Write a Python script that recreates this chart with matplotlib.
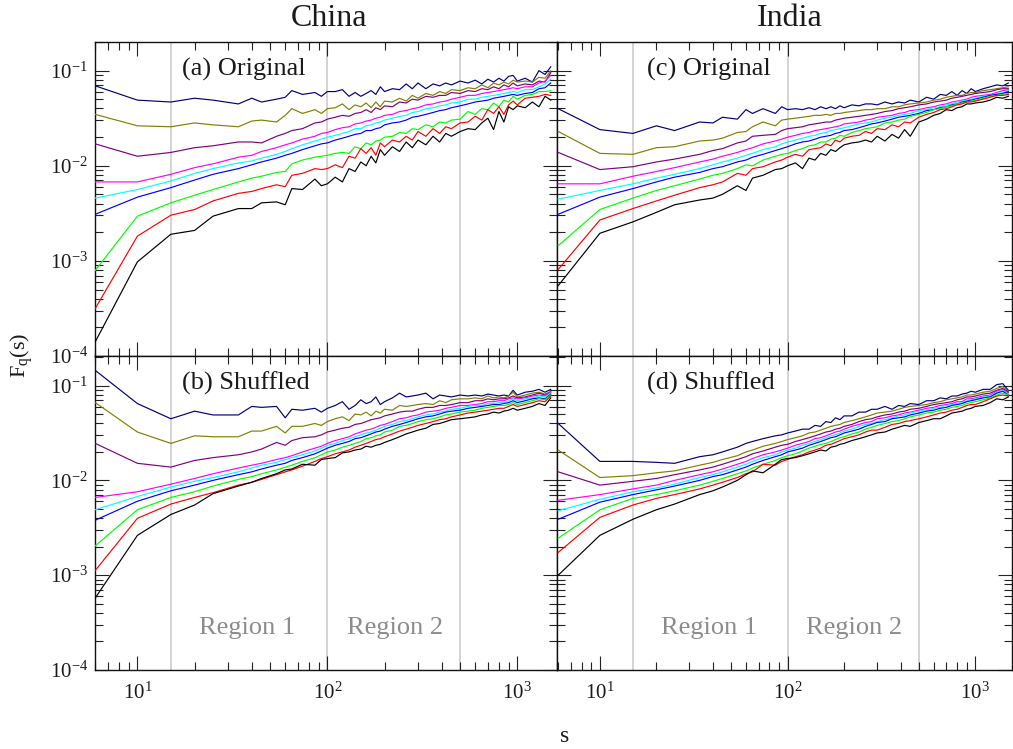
import numpy as np
import matplotlib
matplotlib.use("Agg")
import matplotlib.pyplot as plt
from matplotlib.ticker import FixedLocator, LogLocator, NullFormatter

# ---------------- data (log10 F_q(s)) ----------------
S = [6, 10, 15, 20, 25, 34, 40, 45, 54, 60, 65, 74, 86, 93, 100,
     110, 120, 130, 140, 150, 160, 170, 180, 190, 200,
     220, 240, 260, 280, 300, 330, 360, 390, 420, 450,
     500, 550, 600, 650, 700, 750, 800, 850, 900, 950, 1000,
     1100, 1200, 1300, 1400, 1500]

COLORS = ["#000080", "#808000", "#800080", "#ff00ff", "#00ffff",
          "#0000ff", "#00ff00", "#ff0000", "#000000"]

# (a) China, original
a_navy = [-1.16,-1.31,-1.33,-1.29,-1.31,-1.35,-1.29,-1.33,-1.30,-1.28,-1.21,-1.25,-1.23,-1.27,-1.22,
          -1.22,-1.20,-1.27,-1.23,-1.27,-1.24,-1.21,-1.25,-1.17,-1.22,
          -1.19,-1.20,-1.14,-1.19,-1.13,-1.19,-1.14,-1.16,-1.13,-1.15,
          -1.11,-1.13,-1.10,-1.14,-1.09,-1.12,-1.08,-1.11,-1.06,-1.05,-1.11,
          -1.08,-1.12,-1.00,-1.04,-0.96]
a_olive = [-1.46,-1.58,-1.59,-1.55,-1.57,-1.59,-1.53,-1.52,-1.54,-1.47,-1.40,-1.45,-1.41,-1.45,-1.40,
           -1.39,-1.35,-1.41,-1.36,-1.38,-1.34,-1.39,-1.33,-1.38,-1.32,
           -1.33,-1.29,-1.32,-1.26,-1.29,-1.24,-1.26,-1.22,-1.24,-1.20,
           -1.21,-1.18,-1.19,-1.15,-1.18,-1.13,-1.15,-1.12,-1.14,-1.10,-1.12,
           -1.11,-1.12,-1.07,-1.08,-1.00]
a_purple = [-1.77,-1.90,-1.86,-1.81,-1.79,-1.75,-1.75,-1.76,-1.69,-1.66,-1.63,-1.61,-1.55,-1.54,-1.51,
            -1.49,-1.47,-1.48,-1.45,-1.44,-1.41,-1.44,-1.39,-1.41,-1.37,
            -1.38,-1.33,-1.34,-1.30,-1.31,-1.27,-1.28,-1.26,-1.26,-1.23,
            -1.24,-1.21,-1.22,-1.19,-1.20,-1.17,-1.19,-1.15,-1.17,-1.13,-1.16,
            -1.14,-1.15,-1.11,-1.12,-1.02]
a_magenta = [-2.17,-2.17,-2.09,-2.02,-1.98,-1.91,-1.89,-1.85,-1.81,-1.78,-1.76,-1.72,-1.69,-1.66,-1.65,
             -1.62,-1.60,-1.59,-1.56,-1.55,-1.53,-1.52,-1.50,-1.49,-1.47,
             -1.46,-1.43,-1.42,-1.40,-1.39,-1.36,-1.35,-1.33,-1.32,-1.30,
             -1.28,-1.26,-1.26,-1.24,-1.23,-1.22,-1.21,-1.20,-1.19,-1.18,-1.19,
             -1.17,-1.17,-1.13,-1.11,-1.05]
a_cyan = [-2.34,-2.25,-2.16,-2.08,-2.03,-1.97,-1.95,-1.92,-1.88,-1.85,-1.82,-1.78,-1.74,-1.72,-1.70,
          -1.68,-1.66,-1.64,-1.61,-1.61,-1.58,-1.57,-1.55,-1.54,-1.52,
          -1.50,-1.48,-1.47,-1.44,-1.43,-1.40,-1.39,-1.37,-1.36,-1.34,
          -1.33,-1.30,-1.30,-1.28,-1.27,-1.26,-1.25,-1.24,-1.23,-1.22,-1.23,
          -1.20,-1.20,-1.17,-1.14,-1.09]
a_blue = [-2.51,-2.33,-2.23,-2.15,-2.09,-2.03,-1.99,-1.96,-1.92,-1.89,-1.87,-1.83,-1.79,-1.77,-1.76,
          -1.73,-1.71,-1.69,-1.67,-1.66,-1.63,-1.63,-1.61,-1.60,-1.57,
          -1.55,-1.54,-1.52,-1.49,-1.48,-1.46,-1.44,-1.42,-1.41,-1.39,
          -1.37,-1.35,-1.33,-1.32,-1.31,-1.29,-1.28,-1.27,-1.26,-1.25,-1.26,
          -1.24,-1.23,-1.19,-1.18,-1.13]
a_green = [-3.10,-2.53,-2.39,-2.31,-2.25,-2.17,-2.13,-2.11,-2.07,-2.06,-1.98,-1.94,-1.91,-1.90,-1.89,
           -1.87,-1.86,-1.87,-1.80,-1.82,-1.76,-1.78,-1.74,-1.73,-1.70,
           -1.69,-1.65,-1.66,-1.61,-1.62,-1.57,-1.59,-1.54,-1.55,-1.52,
           -1.51,-1.43,-1.46,-1.40,-1.41,-1.34,-1.38,-1.31,-1.33,-1.27,-1.30,
           -1.26,-1.25,-1.22,-1.22,-1.21]
a_red = [-3.50,-2.74,-2.52,-2.46,-2.37,-2.29,-2.27,-2.24,-2.20,-2.22,-2.10,-2.08,-2.03,-2.04,-2.03,
         -1.99,-2.02,-1.90,-1.92,-1.82,-1.87,-1.81,-1.89,-1.76,-1.80,
         -1.73,-1.75,-1.69,-1.73,-1.64,-1.69,-1.61,-1.66,-1.59,-1.61,
         -1.55,-1.54,-1.48,-1.52,-1.41,-1.45,-1.38,-1.46,-1.36,-1.32,-1.36,
         -1.29,-1.28,-1.27,-1.25,-1.26]
a_black = [-3.85,-3.01,-2.72,-2.68,-2.53,-2.45,-2.45,-2.39,-2.38,-2.41,-2.24,-2.25,-2.14,-2.21,-2.19,
           -2.12,-2.17,-2.03,-2.06,-1.96,-2.00,-1.90,-1.97,-1.83,-1.89,
           -1.80,-1.85,-1.75,-1.81,-1.73,-1.78,-1.69,-1.75,-1.66,-1.69,
           -1.64,-1.61,-1.62,-1.55,-1.50,-1.62,-1.43,-1.54,-1.38,-1.41,-1.37,
           -1.39,-1.33,-1.38,-1.27,-1.31]

# (b) China, shuffled
b_navy = [-0.84,-1.19,-1.35,-1.27,-1.31,-1.31,-1.22,-1.23,-1.22,-1.34,-1.25,-1.26,-1.24,-1.28,-1.24,
          -1.21,-1.17,-1.25,-1.21,-1.15,-1.19,-1.17,-1.12,-1.20,-1.17,
          -1.13,-1.08,-1.12,-1.11,-1.10,-1.08,-1.14,-1.10,-1.11,-1.12,
          -1.10,-1.11,-1.10,-1.11,-1.09,-1.10,-1.11,-1.10,-1.11,-1.05,-1.10,
          -1.07,-1.06,-1.04,-1.07,-1.04]
b_olive = [-1.18,-1.49,-1.61,-1.53,-1.54,-1.54,-1.48,-1.48,-1.43,-1.50,-1.43,-1.43,-1.40,-1.42,-1.38,
           -1.35,-1.33,-1.37,-1.30,-1.31,-1.28,-1.32,-1.27,-1.29,-1.25,
           -1.26,-1.21,-1.22,-1.21,-1.20,-1.19,-1.20,-1.16,-1.18,-1.15,
           -1.14,-1.14,-1.13,-1.14,-1.11,-1.13,-1.12,-1.13,-1.11,-1.07,-1.12,
           -1.10,-1.08,-1.07,-1.09,-1.06]
b_purple = [-1.61,-1.82,-1.86,-1.79,-1.76,-1.73,-1.70,-1.67,-1.60,-1.63,-1.58,-1.55,-1.54,-1.52,-1.49,
            -1.47,-1.45,-1.44,-1.41,-1.40,-1.38,-1.36,-1.35,-1.34,-1.32,
            -1.30,-1.28,-1.27,-1.27,-1.25,-1.23,-1.23,-1.21,-1.21,-1.20,
            -1.18,-1.18,-1.16,-1.16,-1.14,-1.15,-1.14,-1.14,-1.13,-1.11,-1.13,
            -1.12,-1.10,-1.08,-1.10,-1.07]
b_magenta = [-2.18,-2.12,-2.04,-1.98,-1.93,-1.87,-1.84,-1.82,-1.78,-1.76,-1.74,-1.70,-1.66,-1.64,-1.61,
             -1.58,-1.56,-1.54,-1.51,-1.49,-1.47,-1.46,-1.44,-1.42,-1.41,
             -1.38,-1.35,-1.34,-1.32,-1.31,-1.28,-1.27,-1.26,-1.24,-1.23,
             -1.21,-1.21,-1.20,-1.19,-1.17,-1.17,-1.16,-1.16,-1.14,-1.13,-1.14,
             -1.13,-1.11,-1.10,-1.11,-1.07]
b_cyan = [-2.31,-2.17,-2.07,-2.01,-1.97,-1.91,-1.87,-1.84,-1.81,-1.78,-1.76,-1.73,-1.69,-1.66,-1.63,
          -1.61,-1.58,-1.56,-1.54,-1.52,-1.50,-1.49,-1.47,-1.45,-1.43,
          -1.41,-1.38,-1.37,-1.35,-1.33,-1.31,-1.30,-1.28,-1.27,-1.25,
          -1.24,-1.22,-1.21,-1.21,-1.19,-1.19,-1.18,-1.18,-1.16,-1.14,-1.16,
          -1.14,-1.13,-1.11,-1.12,-1.08]
b_blue = [-2.42,-2.22,-2.11,-2.05,-2.00,-1.94,-1.91,-1.88,-1.84,-1.82,-1.79,-1.76,-1.72,-1.69,-1.66,
          -1.63,-1.61,-1.59,-1.56,-1.55,-1.53,-1.51,-1.49,-1.48,-1.46,
          -1.43,-1.41,-1.39,-1.37,-1.35,-1.33,-1.32,-1.30,-1.28,-1.27,
          -1.26,-1.24,-1.23,-1.22,-1.21,-1.20,-1.20,-1.19,-1.18,-1.16,-1.18,
          -1.16,-1.14,-1.13,-1.14,-1.09]
b_green = [-2.69,-2.31,-2.18,-2.12,-2.06,-1.99,-1.96,-1.93,-1.89,-1.86,-1.84,-1.80,-1.76,-1.73,-1.70,
           -1.68,-1.65,-1.63,-1.61,-1.59,-1.56,-1.55,-1.53,-1.52,-1.49,
           -1.47,-1.43,-1.42,-1.40,-1.38,-1.36,-1.35,-1.33,-1.31,-1.30,
           -1.28,-1.27,-1.26,-1.24,-1.23,-1.22,-1.21,-1.21,-1.20,-1.18,-1.20,
           -1.18,-1.16,-1.14,-1.15,-1.10]
b_red = [-2.95,-2.40,-2.25,-2.18,-2.13,-2.05,-2.02,-1.99,-1.94,-1.91,-1.89,-1.85,-1.80,-1.77,-1.75,
         -1.72,-1.70,-1.68,-1.65,-1.63,-1.61,-1.59,-1.57,-1.56,-1.54,
         -1.51,-1.48,-1.46,-1.44,-1.42,-1.40,-1.38,-1.36,-1.35,-1.33,
         -1.31,-1.29,-1.28,-1.27,-1.26,-1.25,-1.24,-1.24,-1.22,-1.20,-1.22,
         -1.20,-1.18,-1.16,-1.17,-1.11]
b_black = [-3.24,-2.58,-2.36,-2.26,-2.14,-2.06,-2.02,-1.98,-1.93,-1.89,-1.88,-1.83,-1.84,-1.78,-1.77,
           -1.76,-1.71,-1.70,-1.68,-1.67,-1.64,-1.65,-1.63,-1.62,-1.60,
           -1.57,-1.54,-1.51,-1.49,-1.47,-1.45,-1.41,-1.40,-1.38,-1.36,
           -1.35,-1.34,-1.33,-1.31,-1.30,-1.28,-1.29,-1.27,-1.26,-1.24,-1.26,
           -1.24,-1.22,-1.19,-1.21,-1.13]

# (c) India, original
c_navy = [-1.40,-1.62,-1.66,-1.58,-1.63,-1.54,-1.55,-1.49,-1.51,-1.41,-1.45,-1.40,-1.45,-1.38,-1.41,
          -1.40,-1.41,-1.39,-1.41,-1.38,-1.40,-1.38,-1.40,-1.37,-1.39,
          -1.36,-1.37,-1.35,-1.35,-1.36,-1.33,-1.35,-1.33,-1.34,-1.31,
          -1.33,-1.28,-1.30,-1.25,-1.26,-1.22,-1.26,-1.21,-1.24,-1.19,-1.22,
          -1.19,-1.17,-1.15,-1.16,-1.13]
c_olive = [-1.64,-1.87,-1.88,-1.81,-1.80,-1.74,-1.73,-1.71,-1.65,-1.64,-1.59,-1.54,-1.58,-1.52,-1.51,
           -1.50,-1.49,-1.48,-1.47,-1.47,-1.46,-1.47,-1.45,-1.45,-1.44,
           -1.43,-1.42,-1.41,-1.41,-1.40,-1.40,-1.38,-1.38,-1.36,-1.35,
           -1.34,-1.33,-1.31,-1.30,-1.28,-1.27,-1.26,-1.26,-1.24,-1.23,-1.23,
           -1.21,-1.20,-1.19,-1.18,-1.17]
c_purple = [-1.86,-2.04,-2.01,-1.96,-1.93,-1.88,-1.84,-1.82,-1.76,-1.74,-1.69,-1.68,-1.67,-1.63,-1.61,
            -1.60,-1.59,-1.57,-1.56,-1.55,-1.54,-1.54,-1.52,-1.51,-1.50,
            -1.49,-1.48,-1.47,-1.46,-1.45,-1.43,-1.42,-1.40,-1.39,-1.38,
            -1.36,-1.35,-1.33,-1.32,-1.31,-1.29,-1.28,-1.27,-1.26,-1.25,-1.24,
            -1.23,-1.22,-1.20,-1.19,-1.19]
c_magenta = [-2.19,-2.19,-2.11,-2.06,-2.02,-1.96,-1.93,-1.90,-1.86,-1.83,-1.81,-1.77,-1.74,-1.72,-1.70,
             -1.68,-1.66,-1.65,-1.63,-1.62,-1.61,-1.60,-1.59,-1.58,-1.56,
             -1.55,-1.54,-1.52,-1.51,-1.49,-1.48,-1.47,-1.45,-1.44,-1.42,
             -1.41,-1.39,-1.38,-1.36,-1.35,-1.33,-1.32,-1.31,-1.30,-1.28,-1.27,
             -1.26,-1.25,-1.23,-1.21,-1.20]
c_cyan = [-2.35,-2.26,-2.19,-2.13,-2.09,-2.03,-1.99,-1.96,-1.92,-1.89,-1.87,-1.83,-1.80,-1.77,-1.75,
          -1.73,-1.71,-1.69,-1.68,-1.66,-1.65,-1.63,-1.62,-1.61,-1.60,
          -1.58,-1.56,-1.55,-1.54,-1.52,-1.50,-1.49,-1.47,-1.46,-1.45,
          -1.42,-1.41,-1.39,-1.38,-1.36,-1.35,-1.33,-1.32,-1.31,-1.30,-1.29,
          -1.27,-1.26,-1.24,-1.23,-1.21]
c_blue = [-2.51,-2.33,-2.24,-2.17,-2.12,-2.07,-2.03,-2.01,-1.96,-1.94,-1.91,-1.88,-1.84,-1.82,-1.80,
          -1.77,-1.75,-1.74,-1.72,-1.70,-1.69,-1.68,-1.66,-1.65,-1.63,
          -1.62,-1.60,-1.58,-1.56,-1.55,-1.53,-1.51,-1.49,-1.48,-1.47,
          -1.45,-1.42,-1.41,-1.39,-1.38,-1.36,-1.35,-1.33,-1.32,-1.31,-1.30,
          -1.28,-1.26,-1.25,-1.24,-1.22]
c_green = [-2.84,-2.46,-2.34,-2.26,-2.21,-2.14,-2.10,-2.08,-2.03,-1.99,-2.00,-1.94,-1.90,-1.88,-1.87,
           -1.84,-1.82,-1.79,-1.78,-1.75,-1.75,-1.72,-1.71,-1.68,-1.69,
           -1.65,-1.63,-1.61,-1.60,-1.59,-1.55,-1.54,-1.52,-1.51,-1.48,
           -1.46,-1.44,-1.41,-1.40,-1.38,-1.37,-1.35,-1.34,-1.33,-1.32,-1.31,
           -1.29,-1.27,-1.26,-1.25,-1.24]
c_red = [-3.09,-2.57,-2.45,-2.37,-2.31,-2.23,-2.20,-2.17,-2.08,-2.10,-2.03,-2.01,-1.96,-1.94,-1.91,
         -1.88,-1.90,-1.83,-1.82,-1.81,-1.77,-1.79,-1.73,-1.75,-1.71,
         -1.69,-1.68,-1.64,-1.66,-1.61,-1.62,-1.57,-1.59,-1.54,-1.55,
         -1.49,-1.46,-1.44,-1.41,-1.40,-1.38,-1.36,-1.35,-1.33,-1.33,-1.32,
         -1.30,-1.28,-1.26,-1.26,-1.25]
c_black = [-3.26,-2.71,-2.59,-2.49,-2.41,-2.36,-2.34,-2.30,-2.21,-2.26,-2.13,-2.10,-2.04,-2.03,-2.00,
           -1.97,-2.03,-1.92,-1.94,-1.87,-1.89,-1.83,-1.85,-1.81,-1.78,
           -1.76,-1.75,-1.73,-1.75,-1.69,-1.74,-1.67,-1.71,-1.62,-1.69,
           -1.54,-1.51,-1.47,-1.45,-1.41,-1.42,-1.39,-1.38,-1.35,-1.35,-1.34,
           -1.33,-1.31,-1.28,-1.29,-1.27]

# (d) India, shuffled
d_navy = [-1.40,-1.80,-1.80,-1.81,-1.82,-1.75,-1.73,-1.70,-1.65,-1.61,-1.59,-1.56,-1.53,-1.52,-1.50,
          -1.48,-1.46,-1.46,-1.42,-1.43,-1.38,-1.39,-1.34,-1.36,-1.32,
          -1.32,-1.28,-1.28,-1.25,-1.25,-1.22,-1.25,-1.21,-1.22,-1.19,
          -1.20,-1.16,-1.16,-1.13,-1.14,-1.11,-1.11,-1.09,-1.08,-1.06,-1.07,
          -1.04,-1.04,-0.99,-0.98,-1.05]
d_olive = [-1.68,-1.97,-1.95,-1.92,-1.90,-1.84,-1.81,-1.78,-1.74,-1.70,-1.68,-1.64,-1.61,-1.59,-1.57,
           -1.55,-1.53,-1.50,-1.49,-1.47,-1.45,-1.43,-1.42,-1.41,-1.39,
           -1.37,-1.35,-1.33,-1.31,-1.29,-1.28,-1.27,-1.25,-1.23,-1.22,
           -1.21,-1.20,-1.18,-1.17,-1.15,-1.14,-1.13,-1.12,-1.10,-1.10,-1.09,
           -1.07,-1.06,-1.03,-1.01,-1.06]
d_purple = [-1.91,-2.05,-2.01,-1.98,-1.94,-1.89,-1.86,-1.83,-1.78,-1.75,-1.72,-1.69,-1.65,-1.63,-1.62,
            -1.59,-1.57,-1.55,-1.53,-1.51,-1.49,-1.48,-1.46,-1.45,-1.43,
            -1.41,-1.38,-1.36,-1.35,-1.33,-1.31,-1.30,-1.28,-1.27,-1.25,
            -1.24,-1.22,-1.20,-1.19,-1.18,-1.17,-1.15,-1.14,-1.12,-1.12,-1.11,
            -1.09,-1.08,-1.05,-1.03,-1.07]
d_magenta = [-2.21,-2.15,-2.09,-2.05,-2.00,-1.94,-1.91,-1.88,-1.83,-1.80,-1.77,-1.73,-1.70,-1.68,-1.66,
             -1.63,-1.61,-1.59,-1.56,-1.55,-1.53,-1.51,-1.49,-1.48,-1.46,
             -1.43,-1.41,-1.39,-1.38,-1.35,-1.34,-1.32,-1.31,-1.29,-1.28,
             -1.26,-1.24,-1.23,-1.21,-1.20,-1.19,-1.17,-1.17,-1.14,-1.14,-1.13,
             -1.11,-1.10,-1.06,-1.04,-1.08]
d_cyan = [-2.32,-2.20,-2.12,-2.08,-2.04,-1.97,-1.94,-1.91,-1.86,-1.83,-1.80,-1.76,-1.73,-1.70,-1.68,
          -1.66,-1.63,-1.61,-1.59,-1.57,-1.55,-1.53,-1.52,-1.50,-1.48,
          -1.46,-1.43,-1.41,-1.40,-1.38,-1.36,-1.34,-1.32,-1.31,-1.29,
          -1.27,-1.26,-1.24,-1.23,-1.21,-1.20,-1.19,-1.18,-1.16,-1.15,-1.14,
          -1.12,-1.11,-1.07,-1.05,-1.09]
d_blue = [-2.41,-2.23,-2.15,-2.10,-2.06,-2.00,-1.96,-1.94,-1.89,-1.86,-1.83,-1.79,-1.75,-1.73,-1.70,
          -1.68,-1.66,-1.63,-1.61,-1.59,-1.57,-1.55,-1.54,-1.52,-1.50,
          -1.48,-1.46,-1.43,-1.41,-1.39,-1.38,-1.35,-1.34,-1.33,-1.31,
          -1.29,-1.27,-1.26,-1.24,-1.23,-1.21,-1.20,-1.19,-1.17,-1.16,-1.15,
          -1.13,-1.12,-1.08,-1.06,-1.10]
d_green = [-2.61,-2.31,-2.19,-2.15,-2.11,-2.05,-2.01,-1.98,-1.93,-1.90,-1.87,-1.83,-1.79,-1.76,-1.74,
           -1.72,-1.69,-1.66,-1.64,-1.62,-1.61,-1.59,-1.57,-1.55,-1.54,
           -1.51,-1.49,-1.46,-1.44,-1.42,-1.40,-1.38,-1.37,-1.35,-1.33,
           -1.31,-1.29,-1.28,-1.26,-1.25,-1.23,-1.22,-1.21,-1.19,-1.18,-1.17,
           -1.15,-1.13,-1.10,-1.08,-1.10]
d_red = [-2.76,-2.39,-2.26,-2.19,-2.15,-2.09,-2.05,-2.02,-1.97,-1.93,-1.91,-1.83,-1.84,-1.80,-1.78,
         -1.75,-1.73,-1.70,-1.68,-1.66,-1.63,-1.62,-1.60,-1.58,-1.56,
         -1.54,-1.52,-1.49,-1.47,-1.47,-1.44,-1.41,-1.40,-1.38,-1.37,
         -1.35,-1.33,-1.31,-1.29,-1.28,-1.26,-1.25,-1.23,-1.21,-1.20,-1.20,
         -1.17,-1.14,-1.11,-1.10,-1.11]
d_black = [-3.00,-2.58,-2.41,-2.31,-2.25,-2.15,-2.11,-2.07,-2.00,-1.94,-1.90,-1.92,-1.83,-1.78,-1.77,
           -1.76,-1.74,-1.72,-1.70,-1.68,-1.69,-1.65,-1.64,-1.62,-1.61,
           -1.58,-1.56,-1.54,-1.52,-1.50,-1.49,-1.46,-1.44,-1.42,-1.43,
           -1.39,-1.37,-1.35,-1.35,-1.32,-1.29,-1.28,-1.27,-1.25,-1.24,-1.22,
           -1.21,-1.18,-1.14,-1.15,-1.12]

PANEL_A = [a_navy, a_olive, a_purple, a_magenta, a_cyan, a_blue, a_green, a_red, a_black]
PANEL_B = [b_navy, b_olive, b_purple, b_magenta, b_cyan, b_blue, b_green, b_red, b_black]
PANEL_C = [c_navy, c_olive, c_purple, c_magenta, c_cyan, c_blue, c_green, c_red, c_black]
PANEL_D = [d_navy, d_olive, d_purple, d_magenta, d_cyan, d_blue, d_green, d_red, d_black]

REGION_BOUNDS = [15, 100, 500]
COLUMN_TITLES = ["China", "India"]
PANEL_LABELS = ["(a) Original", "(b) Shuffled", "(c) Original", "(d) Shuffled"]
Y_TICKS = [1e-4, 1e-3, 1e-2, 1e-1]
Y_TICK_LABELS = [r"$10^{-4}$", r"$10^{-3}$", r"$10^{-2}$", r"$10^{-1}$"]
X_TICKS = [10, 100, 1000]
X_TICK_LABELS = [r"$10^{1}$", r"$10^{2}$", r"$10^{3}$"]

# ---------------- figure ----------------
plt.rcParams["font.family"] = ["Liberation Serif", "DejaVu Serif"]
plt.rcParams["mathtext.fontset"] = "custom"
plt.rcParams["mathtext.rm"] = "Liberation Serif"
plt.rcParams["mathtext.it"] = "Liberation Serif:italic"
plt.rcParams["mathtext.default"] = "regular"

W, H = 1013, 749
fig = plt.figure(figsize=(W / 100, H / 100), dpi=100)

def ax_rect(x0, y0, x1, y1):
    return [x0 / W, 1 - y1 / H, (x1 - x0) / W, (y1 - y0) / H]

rects = {
    "a": ax_rect(95, 42, 557, 356),
    "b": ax_rect(95, 356, 557, 670),
    "c": ax_rect(557, 42, 1012, 356),
    "d": ax_rect(557, 356, 1012, 670),
}
panels = {"a": PANEL_A, "b": PANEL_B, "c": PANEL_C, "d": PANEL_D}
labels = dict(zip("abcd", PANEL_LABELS))
xlims = {"a": (5.98, 1618), "b": (5.98, 1618), "c": (5.91, 1568), "d": (5.91, 1568)}
ylims = {"a": (1e-4, 0.2), "c": (1e-4, 0.2), "b": (1e-4, 0.205), "d": (1e-4, 0.205)}
TXT = "#1a1a1a"

s_arr = np.array(S, dtype=float)
for key in "abcd":
    ax = fig.add_axes(rects[key])
    ax.set_xscale("log")
    ax.set_yscale("log")
    for xv in REGION_BOUNDS:
        ax.axvline(xv, color="#c8c8c8", lw=1.1, zorder=1)
    for logf, col in zip(panels[key], COLORS):
        ax.plot(s_arr, 10 ** np.array(logf), color=col, lw=0.85, zorder=3)
    ax.set_xlim(*xlims[key])
    ax.set_ylim(*ylims[key])

    ax.xaxis.set_major_locator(FixedLocator(X_TICKS))
    ax.xaxis.set_minor_locator(LogLocator(base=10, subs=np.arange(2, 10)))
    ax.yaxis.set_major_locator(FixedLocator(Y_TICKS))
    ax.yaxis.set_minor_locator(LogLocator(base=10, subs=np.arange(2, 10)))
    ax.xaxis.set_minor_formatter(NullFormatter())
    ax.yaxis.set_minor_formatter(NullFormatter())
    ax.tick_params(which="both", direction="in", top=True, right=True,
                   colors="#222222", width=0.8)
    ax.tick_params(which="major", length=10)
    ax.tick_params(which="minor", length=6)
    for sp in ax.spines.values():
        sp.set_linewidth(1.0)
        sp.set_color("#111111")

    if key in "ab":
        ax.set_yticklabels(Y_TICK_LABELS)
        ax.tick_params(axis="y", labelsize=15, pad=5, labelcolor=TXT)
    else:
        ax.set_yticklabels([])
    if key in "bd":
        ax.set_xticklabels(X_TICK_LABELS)
        ax.tick_params(axis="x", labelsize=15, pad=9, labelcolor=TXT)
    else:
        ax.set_xticklabels([])

    ax.text(0.188 if key in "ab" else 0.198, 0.914, labels[key], transform=ax.transAxes,
            fontsize=19, ha="left", va="center", color=TXT)
    if key in "bd":
        ax.text(38, 2.8e-4, "Region 1", fontsize=19, color="#8c8c8c", ha="center", va="center")
        ax.text(227, 2.8e-4, "Region 2", fontsize=19, color="#8c8c8c", ha="center", va="center")

fig.text(329 / W, 1 - 19 / H, COLUMN_TITLES[0], fontsize=23, ha="center", va="center", color=TXT)
fig.text(790 / W, 1 - 19 / H, COLUMN_TITLES[1], fontsize=23, ha="center", va="center", color=TXT)
fig.text(22 / W, 1 - 355 / H, r"$F_q(s)$", fontsize=16, rotation=90, ha="center", va="center", color=TXT)
fig.text(565 / W, 1 - 736 / H, "s", fontsize=17, ha="center", va="center", color=TXT)

fig.savefig("out.png", dpi=100)
